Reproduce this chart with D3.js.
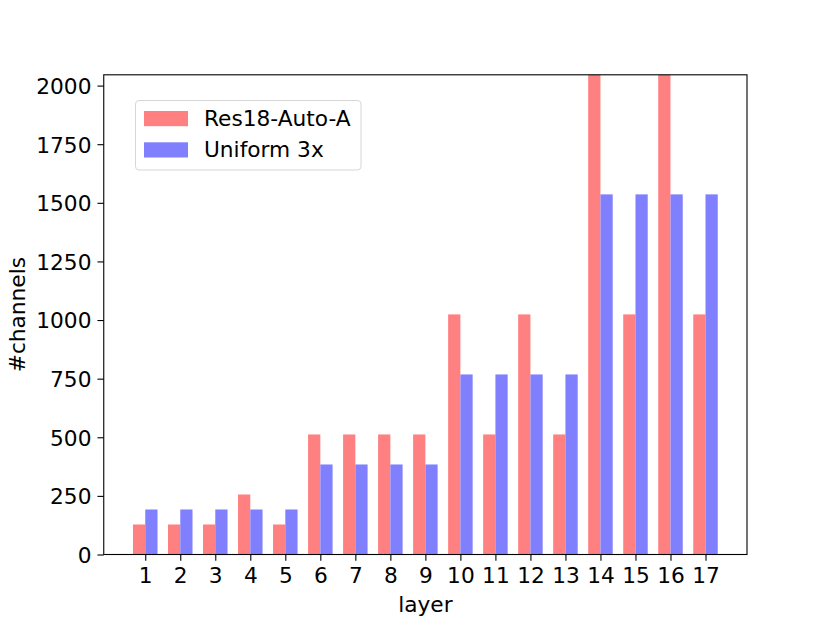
<!DOCTYPE html>
<html><head><meta charset="utf-8">
<script src="https://cdn.jsdelivr.net/npm/d3@7"></script>
<style>body{margin:0;background:#fff}svg{display:block}text{font-family:"DejaVu Sans",sans-serif;}</style>
</head><body>
<svg id="c" width="830" height="623"></svg>
<script>
const layers = ["1","2","3","4","5","6","7","8","9","10","11","12","13","14","15","16","17"];
const autoA = [128,128,128,256,128,512,512,512,512,1024,512,1024,512,2048,1024,2048,1024];
const uniform3x = [192,192,192,192,192,384,384,384,384,768,768,768,768,1536,1536,1536,1536];
const yTicks = [0,250,500,750,1000,1250,1500,1750,2000];
const seriesNames = ["Res18-Auto-A","Uniform 3x"];

const FS = 21.7;
const svg = d3.select("#c");
const L=103.75, R=747, T=74.8, B=554.5;
const x = d3.scaleLinear().domain([-1.185, 16+1.185]).range([L,R]);
const y = d3.scaleLinear().domain([0,2046]).range([B,T]);
const bw = 0.35;
svg.append("clipPath").attr("id","pc").append("rect").attr("x",L).attr("y",T).attr("width",R-L).attr("height",B-T);
const bars = svg.append("g").attr("clip-path","url(#pc)");
bars.selectAll("rect.a").data(autoA).join("rect")
  .attr("x",(d,i)=>x(i-bw)).attr("width",x(bw)-x(0))
  .attr("y",d=>y(d)).attr("height",d=>y(0)-y(d))
  .attr("fill","#ff8080");
bars.selectAll("rect.b").data(uniform3x).join("rect")
  .attr("x",(d,i)=>x(i)).attr("width",x(bw)-x(0))
  .attr("y",d=>y(d)).attr("height",d=>y(0)-y(d))
  .attr("fill","#8080ff");

const xa = svg.append("g").attr("transform",`translate(0,${B})`)
  .call(d3.axisBottom(x).tickValues(d3.range(17)).tickFormat(i=>layers[i]).tickSize(6.3).tickPadding(6));
const ya = svg.append("g").attr("transform",`translate(${L},0)`)
  .call(d3.axisLeft(y).tickValues(yTicks).tickFormat(d3.format("d")).tickSize(6.3).tickPadding(6));
[xa,ya].forEach(a=>{a.select(".domain").remove();a.selectAll("text").attr("font-size",FS).attr("font-family","DejaVu Sans").attr("fill","#000");a.selectAll("line").attr("stroke","#000").attr("stroke-width",1.1);});
xa.selectAll("text").attr("dy",null).attr("y",28.5);
ya.selectAll("text").attr("dy","0.36em");
svg.append("rect").attr("x",L).attr("y",T).attr("width",R-L).attr("height",B-T).attr("fill","none").attr("stroke","#000").attr("stroke-width",1.1);

svg.append("text").attr("x",(L+R)/2).attr("y",612).attr("text-anchor","middle").attr("font-size",FS).text("layer");
svg.append("text").attr("transform",`translate(24.5,${(T+B)/2}) rotate(-90)`).attr("text-anchor","middle").attr("font-size",FS).text("#channels");

const lg = svg.append("g");
lg.append("rect").attr("x",135.5).attr("y",100.5).attr("width",225.5).attr("height",69.5).attr("rx",3.5).attr("fill","#fff").attr("fill-opacity",0.8).attr("stroke","#d6d6d6").attr("stroke-width",1);
const cols=["#ff8080","#8080ff"];
seriesNames.forEach((n,i)=>{
  lg.append("rect").attr("x",144).attr("y",111+i*31.3).attr("width",44).attr("height",15.2).attr("fill",cols[i]);
  lg.append("text").attr("x",204).attr("y",126+i*31.3).attr("font-size",FS).text(n);
});
</script>
</body></html>
